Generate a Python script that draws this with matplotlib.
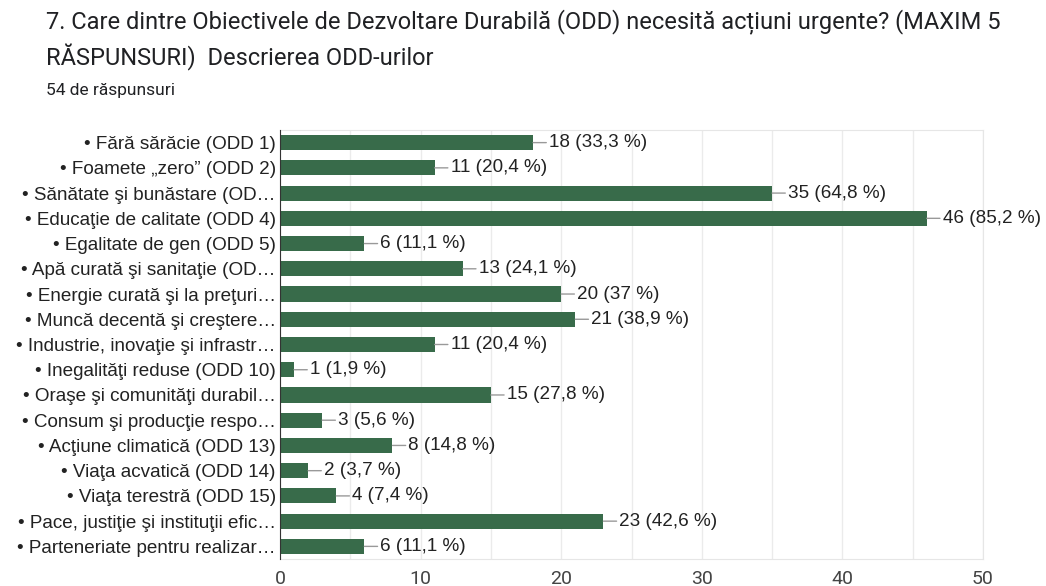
import matplotlib.pyplot as plt
import numpy as np

labels = [
    "• Fără sărăcie (ODD 1)",
    "• Foamete „zero” (ODD 2)",
    "• Sănătate şi bunăstare (OD…",
    "• Educaţie de calitate (ODD 4)",
    "• Egalitate de gen (ODD 5)",
    "• Apă curată şi sanitaţie (OD…",
    "• Energie curată şi la preţuri…",
    "• Muncă decentă şi creştere…",
    "• Industrie, inovaţie şi infrastr…",
    "• Inegalităţi reduse (ODD 10)",
    "• Oraşe şi comunităţi durabil…",
    "• Consum şi producţie respo…",
    "• Acţiune climatică (ODD 13)",
    "• Viaţa acvatică (ODD 14)",
    "• Viaţa terestră (ODD 15)",
    "• Pace, justiţie şi instituţii efic…",
    "• Parteneriate pentru realizar…",
]
counts = [18, 11, 35, 46, 6, 13, 20, 21, 11, 1, 15, 3, 8, 2, 4, 23, 6]
percents = ["33,3", "20,4", "64,8", "85,2", "11,1", "24,1", "37", "38,9", "20,4",
            "1,9", "27,8", "5,6", "14,8", "3,7", "7,4", "42,6", "11,1"]

W, H = 1046, 586
fig = plt.figure(figsize=(W / 100, H / 100), dpi=100)
ax = fig.add_axes([280 / W, 1 - 559 / H, (983 - 280) / W, (559 - 130) / H])

y = np.arange(len(labels))
ax.barh(y, counts, height=0.6, color='#386b4a', zorder=3)

for yi, c, p in zip(y, counts, percents):
    ax.annotate(f"{c} ({p} %)", xy=(c, yi), xytext=(11.5, 0), textcoords='offset points',
                va='center', ha='left', fontsize=13.6, color='#222222',
                family='Liberation Sans', zorder=4,
                arrowprops=dict(arrowstyle='-', color='#999999', lw=1,
                                shrinkA=0, shrinkB=0))

ax.set_xlim(0, 50)
ax.set_ylim(len(labels) - 0.5, -0.5)
ax.set_yticks(y)
ax.set_yticklabels(labels, fontsize=13.6, color='#222222', family='Liberation Sans')
ax.set_xticks(np.arange(0, 51, 10))
ax.set_xticks(np.arange(0, 51, 5), minor=True)
ax.tick_params(axis='x', which='both', length=0, labelsize=14, colors='#444444', pad=8)
ax.tick_params(axis='y', length=0, pad=3)
for lab in ax.get_xticklabels():
    lab.set_family('Roboto')
ax.grid(axis='x', which='both', color='#ebebeb', lw=1, zorder=0)

for s in ['top', 'right', 'bottom']:
    ax.spines[s].set_color('#e6e6e6')
ax.spines['left'].set_color('#333333')
ax.spines['left'].set_zorder(5)

fig.text(46 / W, 1 - 22 / H,
         "7. Care dintre Obiectivele de Dezvoltare Durabilă (ODD) necesită acțiuni urgente? (MAXIM 5",
         fontsize=17, family='Roboto', color='#202124', va='center')
fig.text(46 / W, 1 - 57 / H, "RĂSPUNSURI)  Descrierea ODD-urilor",
         fontsize=17, family='Roboto', color='#202124', va='center')
fig.text(46 / W, 1 - 91 / H, "54 de răspunsuri",
         fontsize=12.5, family='Roboto', color='#202124', va='center')

fig.savefig('out.png', dpi=100)
